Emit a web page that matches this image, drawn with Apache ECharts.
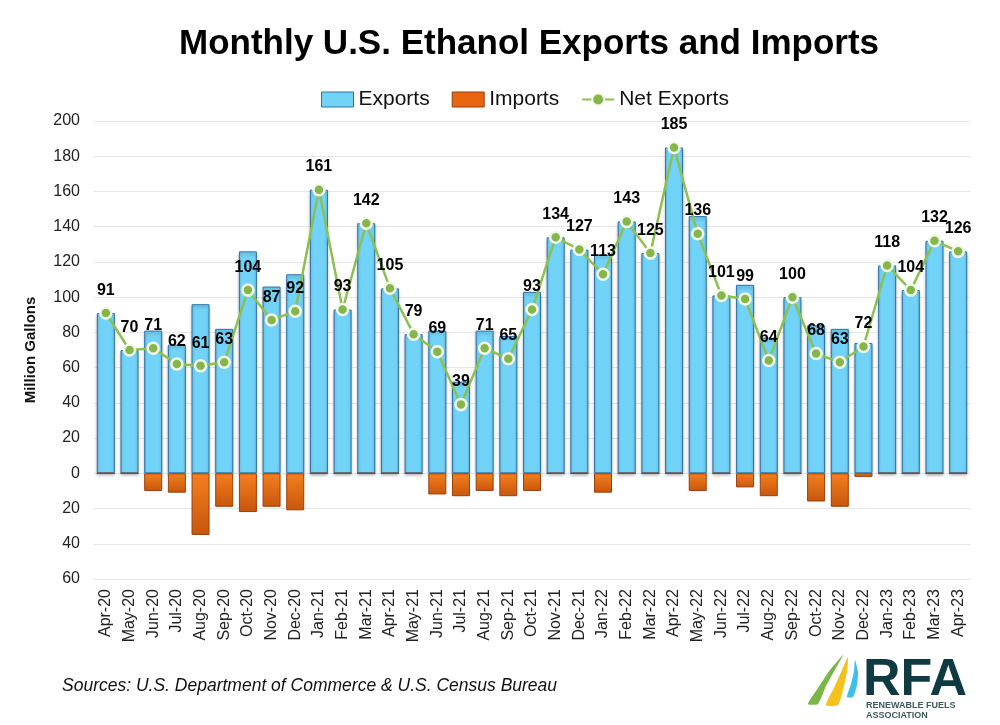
<!DOCTYPE html>
<html lang="en">
<head>
    <meta charset="UTF-8">
    <title>Monthly U.S. Ethanol Exports and Imports</title>
    <script src="https://cdn.jsdelivr.net/npm/echarts@6/dist/echarts.min.js"></script>
</head>
<style>
    html,body{
        margin:0;
        padding:0;
        background:#fff;
    }
    #chart{
        width:1000px;
        height:725px;
    }
</style>
<body>
    <div id="chart"></div>
</body>
</html>

<script>
    // 月份
    let months=['Apr-20','May-20','Jun-20','Jul-20','Aug-20','Sep-20','Oct-20','Nov-20','Dec-20',
        'Jan-21','Feb-21','Mar-21','Apr-21','May-21','Jun-21','Jul-21','Aug-21','Sep-21','Oct-21','Nov-21','Dec-21',
        'Jan-22','Feb-22','Mar-22','Apr-22','May-22','Jun-22','Jul-22','Aug-22','Sep-22','Oct-22','Nov-22','Dec-22',
        'Jan-23','Feb-23','Mar-23','Apr-23'];
    let exportsVal=[91,70,81,73,96,82,126,106,113,
        161,93,142,105,79,81,52,81,78,103,134,127,
        124,143,125,185,146,101,107,77,100,84,82,74,
        118,104,132,126];
    let importsVal=[0,0,10,11,35,19,22,19,21,
        0,0,0,0,0,12,13,10,13,10,0,0,
        11,0,0,0,10,0,8,13,0,16,19,2,
        0,0,0,0];
    let netVal=[91,70,71,62,61,63,104,87,92,
        161,93,142,105,79,69,39,71,65,93,134,127,
        113,143,125,185,136,101,99,64,100,68,63,72,
        118,104,132,126];

    let font='"Liberation Sans", Arial, sans-serif';
    let chart=echarts.init(document.getElementById('chart'));

    chart.setOption({
        backgroundColor:'#fff',
        textStyle:{fontFamily:font},
        title:{
            text:'Monthly U.S. Ethanol Exports and Imports',
            left:174,
            top:22,
            textStyle:{fontSize:35,fontWeight:'bold',color:'#000',fontFamily:font}
        },
        legend:{
            top:84,
            left:316,
            itemGap:22,
            itemWidth:32,
            itemHeight:15,
            textStyle:{fontSize:21,color:'#111',fontFamily:font},
            data:[
                {name:'Exports',icon:'rect',itemStyle:{color:'#72d3f8',borderColor:'#2f6fa8',borderWidth:1}},
                {name:'Imports',icon:'rect',itemStyle:{color:'#e8640f',borderColor:'#9a3f08',borderWidth:1}},
                {name:'Net Exports'}
            ]
        },
        grid:{
            left:94,
            right:30,
            top:121,
            bottom:146
        },
        xAxis:{
            type:'category',
            data:months,
            axisLine:{show:false},
            axisTick:{show:false},
            axisLabel:{
                rotate:90,
                fontSize:16,
                color:'#222',
                margin:10,
                interval:0,
                fontFamily:font
            }
        },
        yAxis:{
            type:'value',
            min:-60,
            max:200,
            interval:20,
            name:'Million Gallons',
            nameLocation:'middle',
            nameGap:56,
            nameTextStyle:{fontSize:15,fontWeight:'bold',color:'#111',fontFamily:font},
            axisLabel:{
                fontSize:16,
                color:'#222',
                margin:14,
                fontFamily:font,
                formatter:function(v){return Math.abs(v);}
            },
            splitLine:{lineStyle:{color:'#e6e6e6',width:1}}
        },
        series:[
            {
                name:'Exports',
                type:'bar',
                data:exportsVal,
                barWidth:18,
                barGap:'-100%',
                itemStyle:{
                    color:'#72d3f8',
                    borderColor:'#2f6fa8',
                    borderWidth:1,
                    shadowColor:'rgba(0,0,0,0.3)',
                    shadowBlur:3,
                    shadowOffsetY:2
                },
                z:2
            },
            {
                name:'Imports',
                type:'bar',
                data:importsVal.map(v=>-v),
                barWidth:18,
                itemStyle:{
                    color:{
                        type:'linear',x:0,y:0,x2:0,y2:1,
                        colorStops:[
                            {offset:0,color:'#f4801e'},
                            {offset:1,color:'#c8560c'}
                        ]
                    },
                    borderColor:'#9a3f08',
                    borderWidth:1
                },
                z:2
            },
            {
                name:'Net Exports',
                type:'line',
                data:netVal,
                symbol:'circle',
                symbolSize:11,
                lineStyle:{color:'#8cc152',width:2.5},
                itemStyle:{color:'#85b64a',borderColor:'#f2f9ea',borderWidth:2.5},
                label:{
                    show:true,
                    position:'top',
                    distance:8,
                    fontSize:16,
                    fontWeight:'bold',
                    color:'#000',
                    fontFamily:font
                },
                z:5
            }
        ],
        graphic:[
            {
                type:'text',
                left:62,
                top:677,
                style:{
                    text:'Sources: U.S. Department of Commerce & U.S. Census Bureau',
                    font:'italic 17.5px '+font,
                    fill:'#111'
                }
            },
            // RFA logo
            {
                type:'polygon',
                shape:{points:[[808,704],[818,688],[830,670],[843,655],[836,668],[826,686],[818,704]],smooth:0.2},
                style:{fill:'#7ab648'}
            },
            {
                type:'polygon',
                shape:{points:[[826,705],[834,688],[842,670],[848,657],[847,672],[843,690],[838,705]],smooth:0.2},
                style:{fill:'#f4c21c'}
            },
            {
                type:'polygon',
                shape:{points:[[847,697],[851,684],[854,671],[855,660],[858,672],[857,685],[853,697]],smooth:0.2},
                style:{fill:'#3cc0ea'}
            },
            {
                type:'text',
                left:863,
                top:655,
                style:{
                    text:'RFA',
                    font:'bold 52px '+font,
                    fill:'#0f3a41'
                }
            },
            {
                type:'text',
                left:866,
                top:701,
                style:{
                    text:'RENEWABLE FUELS\nASSOCIATION',
                    font:'bold 9px '+font,
                    lineHeight:10,
                    fill:'#3e5a5e'
                }
            }
        ]
    });
</script>
